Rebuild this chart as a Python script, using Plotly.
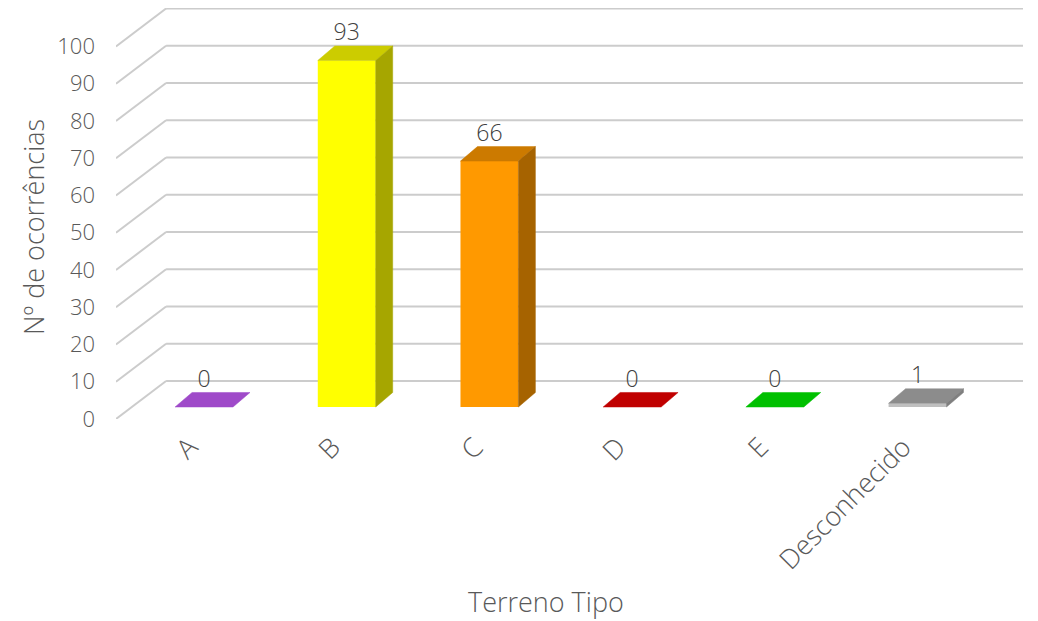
import plotly.graph_objects as go

categories = ["A", "B", "C", "D", "E", "Desconhecido"]
values = [0, 93, 66, 0, 0, 1]
y_ticks = [0, 10, 20, 30, 40, 50, 60, 70, 80, 90, 100]

front_colors = ["#9F4AC9", "#FFFF00", "#FF9900", "#C00000", "#00C000", "#BFBFBF"]
top_colors = ["#9F4AC9", "#CCCC00", "#CC7A00", "#C00000", "#00C000", "#8C8C8C"]
side_colors = ["#7A3399", "#A6A600", "#A66300", "#900000", "#009000", "#7F7F7F"]

# geometry (data units)
BAR_W = 0.406
DX, DY = 0.119, 3.9            # bar depth offset
WALL_BACK = 6.97               # back wall offset (y units)
FLOOR_FRONT = -3.22            # front edge offset (y units)
X_FRONT, X_BACK, X_RIGHT = -0.617, -0.266, 5.739
LABEL_SHIFT = -0.1             # rotated category labels sit slightly left

FONT = "Open Sans"
W = 300
TXT = "#595959"

fig = go.Figure()

# front faces
fig.add_trace(go.Bar(
    x=list(range(len(categories))), y=values, width=BAR_W,
    marker=dict(color=front_colors, line=dict(width=0)),
    hoverinfo="skip", showlegend=False))

# top and side faces
for i, v in enumerate(values):
    xl, xr = i - BAR_W / 2, i + BAR_W / 2
    fig.add_trace(go.Scatter(
        x=[xl, xr, xr + DX, xl + DX, xl], y=[v, v, v + DY, v + DY, v],
        fill="toself", fillcolor=top_colors[i], mode="lines",
        line=dict(width=0.5, color=top_colors[i]), hoverinfo="skip", showlegend=False))
    if v > 0:
        fig.add_trace(go.Scatter(
            x=[xr, xr, xr + DX, xr + DX, xr], y=[0, v, v + DY, DY, 0],
            fill="toself", fillcolor=side_colors[i], mode="lines",
            line=dict(width=0.5, color=side_colors[i]), hoverinfo="skip", showlegend=False))

# data labels
fig.add_trace(go.Scatter(
    x=list(range(len(categories))), y=[v + DY for v in values],
    mode="text", text=[str(v) for v in values], textposition="top center",
    textfont=dict(family=FONT, size=23, color="#404040", weight=W),
    hoverinfo="skip", showlegend=False))

# 3D-like gridlines
shapes = []
for t in y_ticks:
    shapes.append(dict(type="line", xref="x", yref="y", layer="below",
                       x0=X_BACK, x1=X_RIGHT, y0=t + WALL_BACK, y1=t + WALL_BACK,
                       line=dict(color="#CCCCCC", width=2)))
    shapes.append(dict(type="line", xref="x", yref="y", layer="below",
                       x0=X_FRONT, x1=X_BACK, y0=t + FLOOR_FRONT, y1=t + WALL_BACK,
                       line=dict(color="#CCCCCC", width=2)))

fig.update_layout(
    width=1038, height=621,
    margin=dict(l=116, r=15, t=8, b=202),
    paper_bgcolor="white", plot_bgcolor="white",
    shapes=shapes,
    xaxis=dict(range=[X_FRONT, X_RIGHT],
               tickvals=[i + LABEL_SHIFT for i in range(len(categories))],
               ticktext=categories, tickangle=-45, showgrid=False, zeroline=False,
               showline=False, ticks="", ticklabelstandoff=6,
               tickfont=dict(family=FONT, size=27, color=TXT, weight=W)),
    yaxis=dict(range=[FLOOR_FRONT, 107.1], tickvals=[t + FLOOR_FRONT for t in y_ticks],
               ticktext=[str(t) for t in y_ticks], showgrid=False, zeroline=False,
               showline=False, ticks="", ticklabelstandoff=20,
               tickfont=dict(family=FONT, size=22, color=TXT, weight=W)),
    annotations=[
        dict(text="Terreno Tipo", xref="paper", yref="paper", x=0.474, y=-0.443,
             xanchor="center", yanchor="middle",
             showarrow=False, font=dict(family=FONT, size=27, color=TXT, weight=W)),
        dict(text="Nº de ocorrências", xref="paper", yref="paper", x=-0.0915, y=0.467,
             xanchor="center", yanchor="middle",
             textangle=-90, showarrow=False, font=dict(family=FONT, size=27, color=TXT, weight=W)),
    ],
)

fig.write_html("out.html")
